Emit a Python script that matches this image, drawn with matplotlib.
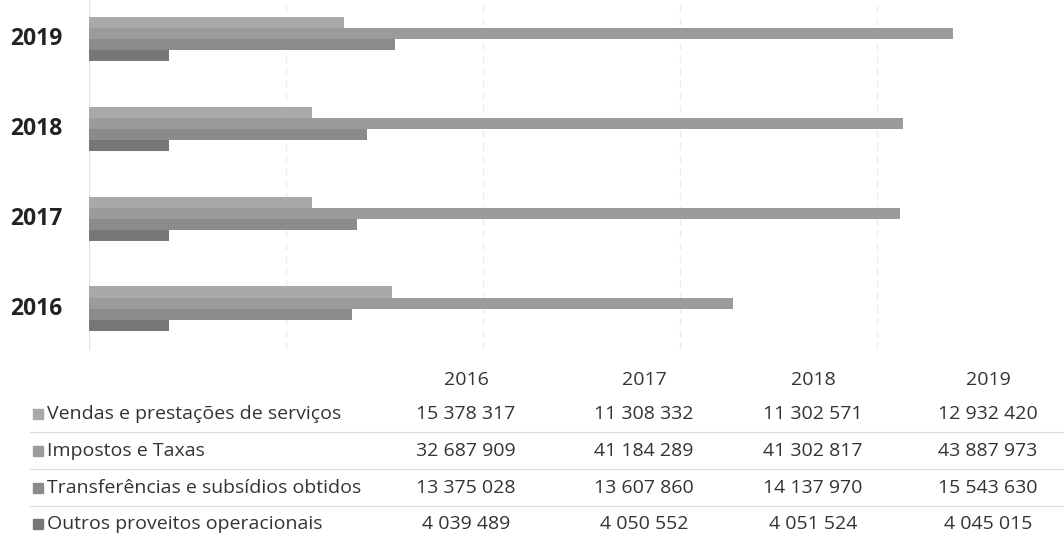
import matplotlib
matplotlib.use("Agg")
import matplotlib.pyplot as plt
import numpy as np

# Data
years = ["2016", "2017", "2018", "2019"]
series_names = [
    "Vendas e prestações de serviços",
    "Impostos e Taxas",
    "Transferências e subsídios obtidos",
    "Outros proveitos operacionais",
]
vendas = [15378317, 11308332, 11302571, 12932420]
impostos = [32687909, 41184289, 41302817, 43887973]
transferencias = [13375028, 13607860, 14137970, 15543630]
outros = [4039489, 4050552, 4051524, 4045015]

series_values = [vendas, impostos, transferencias, outros]
colors = ["#a9a9a9", "#9b9b9b", "#8b8b8b", "#777777"]

W, H = 1064, 535
fig = plt.figure(figsize=(W / 100, H / 100), dpi=100)
fig.patch.set_facecolor("white")


def fx(px):
    return px / W


def fy(py):
    return 1 - py / H


# Chart area
ax = fig.add_axes([fx(89), fy(350), fx(1064 - 89), 350 / H])
y = np.arange(len(years))
bar_h = 0.123
offsets = [1.5, 0.5, -0.5, -1.5]
for vals, off, col in zip(series_values, offsets, colors):
    ax.barh(y + off * bar_h, vals, height=bar_h, color=col, zorder=3)

ax.set_xlim(0, 49.5e6)
ax.set_ylim(-0.46, 3.43)
for gx in [10e6, 20e6, 30e6, 40e6]:
    ax.axvline(gx, color="#ececec", lw=0.9, ls=(0, (6, 4)), zorder=1)
ax.axvline(0, color="#e4e4e4", lw=1.0, zorder=2)
for s in ax.spines.values():
    s.set_visible(False)
ax.set_xticks([])
ax.set_yticks([])

# Category labels on the left
for yi, yr in zip(y, years):
    ax.text(-0.0275, yi, yr, transform=ax.get_yaxis_transform(),
            ha="right", va="center", fontsize=16.5, fontweight="bold",
            color="#222222", family="Open Sans")

# Data table beneath the chart
col_x = [466, 644, 813, 988]
header_y = 380
row_y = [414, 451, 488, 524]
txt_kw = dict(fontsize=14, color="#333333", family="Open Sans")

for cx, yr in zip(col_x, years):
    fig.text(fx(cx), fy(header_y), yr, ha="center", va="center", **txt_kw)

for ry, name, vals, col in zip(row_y, series_names, series_values, colors):
    fig.patches.append(plt.Rectangle((fx(33), fy(ry + 5)), fx(10), 10 / H,
                                     transform=fig.transFigure,
                                     color=col, figure=fig))
    fig.text(fx(47), fy(ry), name, ha="left", va="center", **txt_kw)
    for cx, v in zip(col_x, vals):
        s = f"{v:,}".replace(",", " ")
        fig.text(fx(cx), fy(ry), s, ha="center", va="center", **txt_kw)

for ly in [432, 469, 506]:
    fig.add_artist(plt.Line2D([fx(30), fx(1064)], [fy(ly), fy(ly)],
                              transform=fig.transFigure,
                              color="#dcdcdc", lw=0.9))

fig.savefig("out.png", dpi=100, facecolor="white")
